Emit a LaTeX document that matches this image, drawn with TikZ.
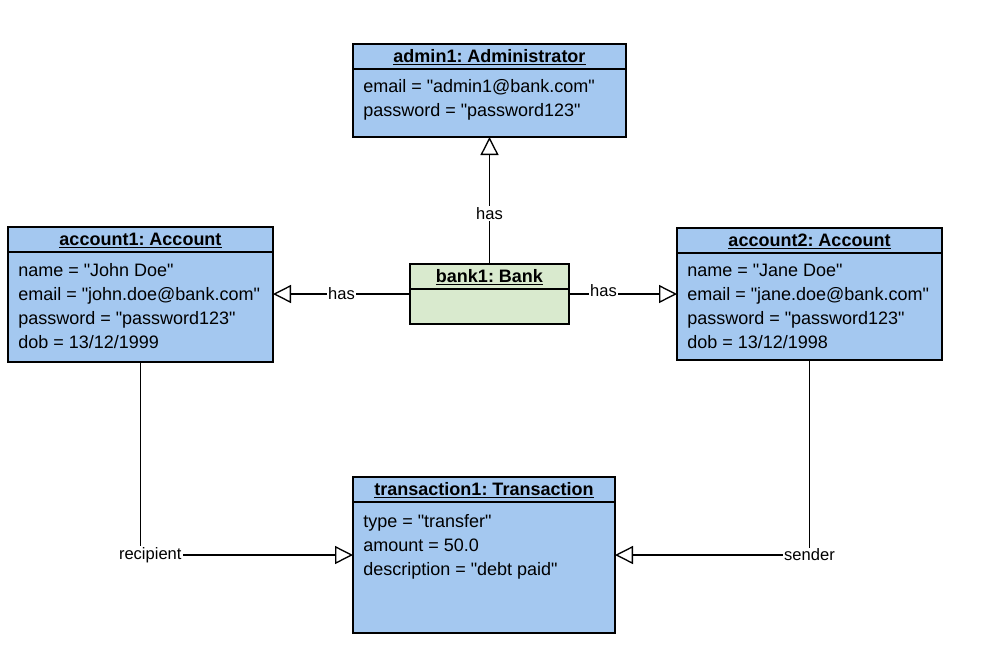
\documentclass[tikz,border=0pt]{standalone}
\usepackage{fontspec}
\setmainfont{Liberation Sans}[Ligatures=TeXOff]
\usetikzlibrary{arrows.meta, calc, positioning, fit}
\definecolor{objblue}{RGB}{164,200,240}
\definecolor{objgreen}{RGB}{217,234,206}
\frenchspacing

\begin{document}
\begin{tikzpicture}[x=0.75pt, y=-0.75pt,
  objbox/.style={draw=black, line width=1pt, fill=objblue, inner sep=0pt, outer sep=0pt},
  objtitle/.style={anchor=base, inner sep=0pt, font=\fontsize{13.5}{18}\selectfont\bfseries},
  attrs/.style={anchor=north west, inner sep=0pt, align=left, font=\fontsize{13.5}{18}\selectfont},
  link/.style={line width=1pt, -{Triangle[open, length=13.5pt, width=13.5pt]}},
  lbl/.style={fill=white, inner sep=1pt, font=\fontsize{12.4}{14}\selectfont}]
  \useasboundingbox (0,0) rectangle (997,662);

  \node (admin) [objbox, fit={(353,44) (626,137)}] {};
  \node (bank) [objbox, fill=objgreen, fit={(410,264) (569,324)}] {};
  \node (account1) [objbox, fit={(8,227) (273,362)}] {};
  \node (account2) [objbox, fit={(677,228) (942,360)}] {};
  \node (transaction) [objbox, fit={(353,477) (615,633)}] {};

  \foreach \obj in {admin, bank, account1, account2, transaction}
    \draw[line width=1pt] ([yshift=-18.75pt]\obj.north west) -- ([yshift=-18.75pt]\obj.north east);

  \node (admin-t) [objtitle] at ($(admin.north)+(0,18)$) {\underline{admin1: Administrator}};
  \node (bank-t) [objtitle] at ($(bank.north)+(0,18.5)$) {\underline{bank1: Bank}};
  \node (account1-t) [objtitle] at ($(account1.north)+(0,18)$) {\underline{account1: Account}};
  \node (account2-t) [objtitle] at ($(account2.north)+(0,18.5)$) {\underline{account2: Account}};
  \node (transaction-t) [objtitle] at ($(transaction.north)+(0,18.5)$) {\underline{transaction1: Transaction}};

  \node (admin-a) [attrs] at ($(admin.north west)+(10,35)$)
    {email = "admin1@bank.com"\\password = "password123"};
  \node (account1-a) [attrs] at ($(account1.north west)+(10,36)$)
    {name = "John Doe"\\email = "john.doe@bank.com"\\password = "password123"\\dob = 13/12/1999};
  \node (account2-a) [attrs] at ($(account2.north west)+(10,36)$)
    {name = "Jane Doe"\\email = "jane.doe@bank.com"\\password = "password123"\\dob = 13/12/1998};
  \node (transaction-a) [attrs] at ($(transaction.north west)+(10,37)$)
    {type = "transfer"\\amount = 50.0\\description = "debt paid"};

  \draw[link] (bank) -- node[lbl, pos=0.4] (has-admin) {has} (admin);
  \draw[link] (bank.west) -- node[lbl] (has-acc1) {has} (bank.west -| account1.east);
  \draw[link] (bank.east) -- node[lbl, pos=0.32, yshift=2.25pt] (has-acc2) {has} (bank.east -| account2.west);
  \draw[link] (account1.south) |- node[lbl, pos=0.523] (recipient) {recipient} (transaction.west);
  \draw[link] (account2.south) |- node[lbl, pos=0.5] (sender) {sender} (transaction.east);
\end{tikzpicture}
\end{document}
